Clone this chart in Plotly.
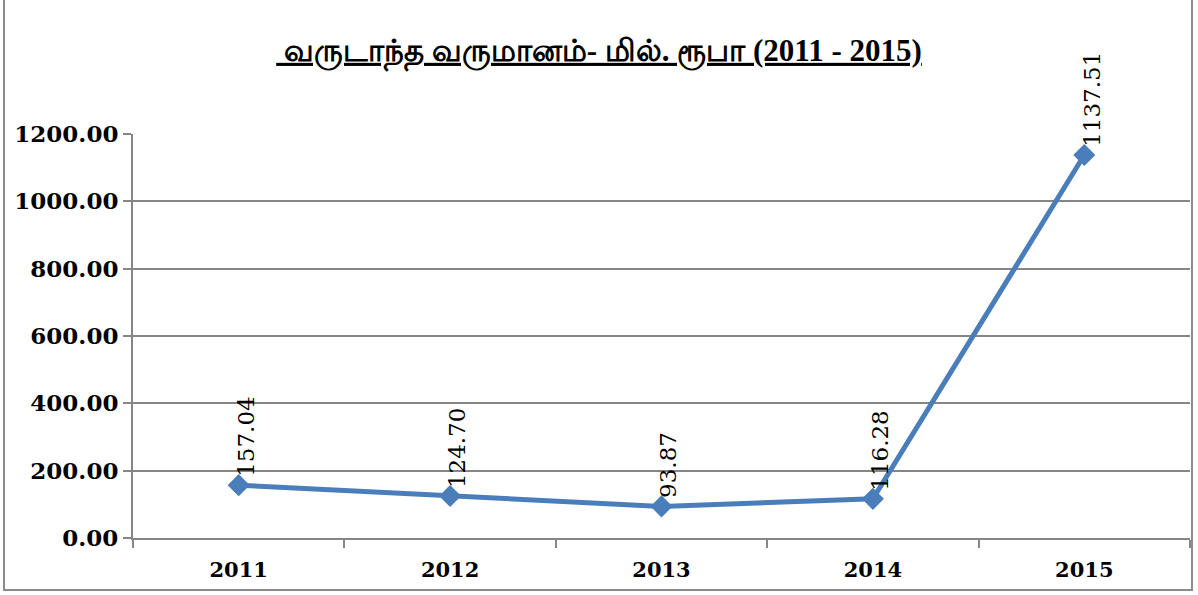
import plotly.graph_objects as go

years = ["2011", "2012", "2013", "2014", "2015"]
income = [157.04, 124.70, 93.87, 116.28, 1137.51]
value_labels = ["157.04", "124.70", "93.87", "116.28", "1137.51"]
title_text = " வருடாந்த வருமானம்- மில். ரூபா (2011 - 2015)"

LINE = "#4A7EBB"
GRID = "#868686"

fig = go.Figure()
fig.add_trace(go.Scatter(
    x=years, y=income, mode="lines+markers",
    line=dict(color=LINE, width=5),
    marker=dict(symbol="diamond", size=17, color=LINE),
    showlegend=False, hoverinfo="skip",
))

for i, (y, t) in enumerate(zip(income, value_labels)):
    fig.add_annotation(
        x=i, y=y, xref="x", yref="y", text=t, textangle=-90,
        showarrow=False, yanchor="bottom", xanchor="center",
        yshift=6, xshift=7,
        font=dict(family="DejaVu Serif", size=23, color="#000000"),
    )

fig.update_layout(
    width=1198, height=595,
    margin=dict(l=133, r=8, t=134, b=57),
    paper_bgcolor="white", plot_bgcolor="white",
    title=dict(
        text="<b><u>" + title_text + "</u></b>",
        x=0.5, xanchor="center", xref="container",
        y=1 - 50 / 595, yanchor="middle",
        font=dict(family="Liberation Serif, Noto Sans, serif", size=31, color="#000000"),
    ),
    xaxis=dict(
        type="category", range=[-0.5, 4.5],
        tickson="boundaries", ticks="outside", ticklen=8, tickwidth=2, tickcolor=GRID,
        showline=True, linecolor=GRID, linewidth=2, showgrid=False,
        tickfont=dict(family="DejaVu Serif", size=21, color="#000000", weight="bold"),
        ticklabelstandoff=12,
    ),
    yaxis=dict(
        range=[0, 1200], dtick=200, tickformat=".2f",
        ticks="outside", ticklen=8, tickwidth=2, tickcolor=GRID,
        showline=True, linecolor=GRID, linewidth=2,
        showgrid=True, gridcolor=GRID, gridwidth=2, zeroline=False,
        tickfont=dict(family="DejaVu Serif", size=23, color="#000000", weight="bold"),
    ),
    shapes=[dict(
        type="rect", xref="paper", yref="paper",
        x0=(4 - 133) / 1057, x1=(1192 - 133) / 1057,
        y0=(538 - 590) / 404, y1=(538 + 2) / 404,
        line=dict(color="#8C8C8C", width=2), fillcolor="rgba(0,0,0,0)", layer="below",
    )],
)

fig.write_html("out.html", config={"displayModeBar": False},
               post_script="document.body.style.margin='0px';")
